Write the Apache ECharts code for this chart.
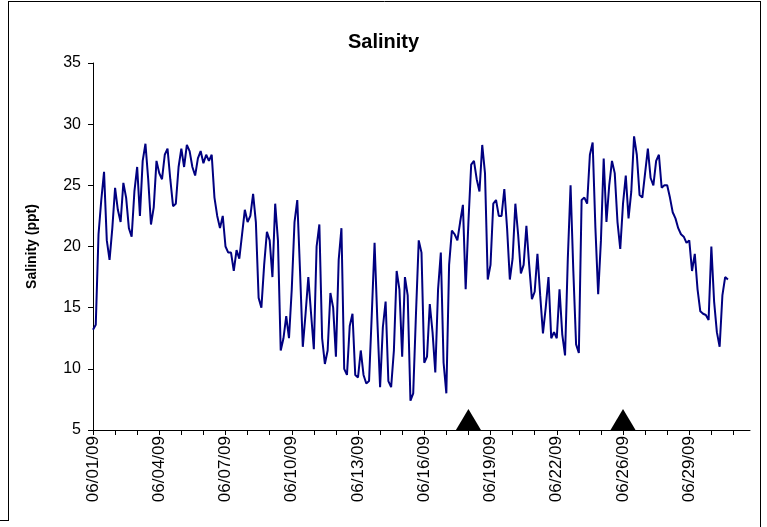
<!DOCTYPE html>
<html>
<head>
<meta charset="utf-8">
<script src="https://cdn.jsdelivr.net/npm/echarts@6/dist/echarts.min.js"></script>
<style>
html,body{margin:0;padding:0;background:#fff;}
#chart{width:767px;height:527px;}
</style>
</head>
<body>
<div id="chart"></div>
<script>
// Tick labels shown every 24 samples (every 3 daily ticks)
const tickLabels = ['06/01/09','06/04/09','06/07/09','06/10/09','06/13/09','06/16/09','06/19/09','06/22/09','06/26/09','06/29/09'];
// Salinity (ppt), 8 samples per daily tick
const salinity = [
13.2,13.6,21.0,23.8,26.1,20.5,18.9,21.5,
24.8,23.0,22.0,25.2,24.0,21.5,20.8,24.5,
26.5,22.5,27.0,28.4,25.5,21.8,23.2,27.0,
26.0,25.5,27.5,28.0,25.5,23.3,23.5,26.5,
28.0,26.5,28.3,27.8,26.5,25.8,27.2,27.8,
26.8,27.5,27.0,27.5,24.0,22.5,21.5,22.5,
20.0,19.5,19.5,18.0,19.7,19.0,21.0,23.0,
22.0,22.5,24.3,22.0,15.8,15.0,18.5,21.2,
20.5,17.5,23.5,20.5,11.5,12.5,14.3,12.5,
16.5,22.0,23.8,18.0,11.8,14.5,17.5,14.5,
11.6,20.0,21.8,12.5,10.4,11.5,16.2,15.0,
11.0,18.9,21.5,10.0,9.5,13.5,14.5,9.5,
9.3,11.5,9.5,8.8,9.0,14.5,20.3,14.0,
8.5,13.4,15.5,9.0,8.5,11.5,18.0,16.5,
11.0,17.5,16.0,7.4,8.0,14.5,20.5,19.5,
10.5,11.0,15.3,13.0,9.7,16.5,19.5,10.5,
8.0,18.5,21.3,21.0,20.5,22.0,23.4,16.5,
22.0,26.7,27.0,25.5,24.5,28.3,26.0,17.3,
18.5,23.5,23.8,22.5,22.5,24.7,21.5,17.3,
19.0,23.5,21.0,17.8,18.5,21.7,18.5,15.7,
16.3,19.4,16.0,12.9,15.0,17.5,12.5,13.0,
12.5,16.5,12.8,11.1,19.0,25.0,18.0,12.0,
11.3,23.8,24.0,23.5,27.5,28.5,21.5,16.1,
20.5,27.2,22.0,25.0,27.0,26.0,22.0,19.8,
23.5,25.8,22.3,24.5,29.0,27.5,24.2,24.0,
26.0,28.0,25.6,25.0,27.0,27.5,24.8,25.0,
25.0,24.0,22.8,22.3,21.5,21.0,20.8,20.3,
20.5,18.0,19.4,16.5,14.7,14.5,14.4,14.0,
20.0,15.5,13.0,11.8,16.0,17.5,17.3
];
const slotsPerTick = 8;
const slotsPerLabel = 24;
const totalSlots = 239;
const markerSlots = [136, 192];
const markerValue = 5;

const cats = [];
for (let i = 0; i < totalSlots; i++) cats.push(String(i));

const FONT = 'Liberation Sans';
const borderStyle = {stroke: '#000', lineWidth: 1};
const chart = echarts.init(document.getElementById('chart'), null, {renderer: 'canvas'});
chart.setOption({
  animation: false,
  backgroundColor: '#fff',
  title: {
    text: 'Salinity',
    left: 'center',
    top: 27,
    textStyle: {fontFamily: FONT, fontSize: 20, fontWeight: 'bold', color: '#000'}
  },
  grid: {left: 93, right: 17, top: 63, bottom: 97, containLabel: false, outerBoundsMode: 'none'},
  graphic: [
    {type: 'line', shape: {x1: 8, y1: 1.5, x2: 761, y2: 1.5}, style: borderStyle, silent: true},
    {type: 'line', shape: {x1: 8.5, y1: 1, x2: 8.5, y2: 521}, style: borderStyle, silent: true},
    {type: 'line', shape: {x1: 760.5, y1: 1, x2: 760.5, y2: 527}, style: borderStyle, silent: true},
    {type: 'line', shape: {x1: 0, y1: 520.5, x2: 9, y2: 520.5}, style: borderStyle, silent: true}
  ],
  xAxis: {
    type: 'category',
    boundaryGap: false,
    data: cats,
    axisLine: {lineStyle: {color: '#000', width: 1}},
    axisTick: {show: true, length: 5, interval: (i) => i % slotsPerTick === 0, lineStyle: {color: '#000'}},
    axisLabel: {
      interval: (i) => i % slotsPerLabel === 0,
      formatter: (v, i) => tickLabels[Math.round(i / slotsPerLabel)] || '',
      rotate: 90,
      margin: 6,
      fontFamily: FONT,
      fontSize: 17,
      color: '#000'
    },
    splitLine: {show: false}
  },
  yAxis: {
    type: 'value',
    min: 5,
    max: 35,
    interval: 5,
    name: 'Salinity (ppt)',
    nameLocation: 'middle',
    nameGap: 54,
    nameTextStyle: {fontFamily: FONT, fontSize: 14, fontWeight: 'bold', color: '#000'},
    axisLine: {show: true, lineStyle: {color: '#000', width: 1}},
    axisTick: {show: true, length: 5, lineStyle: {color: '#000'}},
    axisLabel: {fontFamily: FONT, fontSize: 16, color: '#000', margin: 12},
    splitLine: {show: false}
  },
  series: [{
    type: 'line',
    data: salinity,
    showSymbol: false,
    symbol: 'none',
    lineStyle: {color: '#000080', width: 2},
    z: 2
  }, {
    type: 'scatter',
    data: markerSlots.map(s => [s, markerValue]),
    symbol: 'triangle',
    symbolSize: [25, 21],
    symbolOffset: [0, -10.5],
    itemStyle: {color: '#000', opacity: 1},
    clip: false,
    z: 3
  }]
});
</script>
</body>
</html>
